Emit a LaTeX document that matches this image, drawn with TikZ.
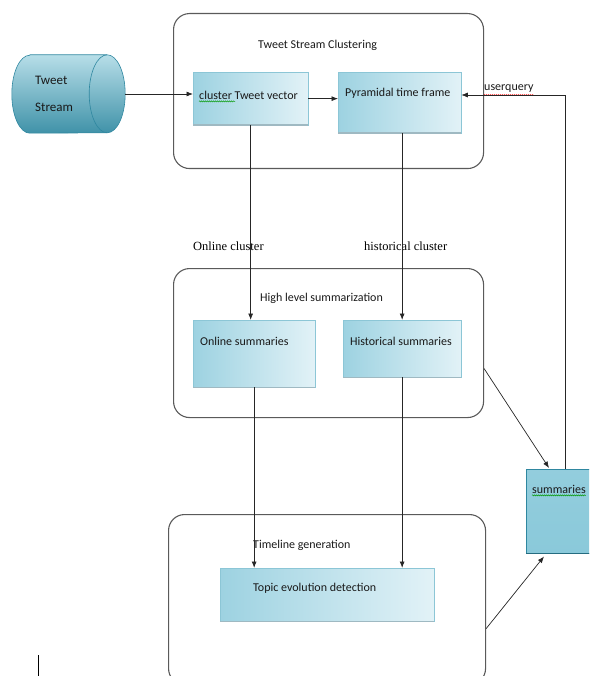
\documentclass[tikz,border=0pt]{standalone}
\usepackage{fontspec}
\setmainfont{Carlito}
\newfontfamily\serifface{Liberation Serif}
\usetikzlibrary{shapes.geometric,positioning,calc,decorations.pathmorphing,arrows.meta}
\definecolor{boxdark}{HTML}{9DD2E1}
\definecolor{boxlight}{HTML}{E2F2F7}
\definecolor{boxedge}{HTML}{8CC6D6}
\definecolor{boxshade}{HTML}{9FB9C2}
\definecolor{streamteal}{HTML}{4BACC6}
\definecolor{streamedge}{HTML}{2F87A0}
\definecolor{framegray}{HTML}{5A5A5A}

\begin{document}
\begin{tikzpicture}
[x=1pt,y=-1pt,>={Latex[length=6.5pt,width=5pt]},
 group/.style={draw=framegray,line width=1.1pt,rounded corners=16pt,anchor=north west},
 stagebox/.style={anchor=north west,left color=boxdark,right color=boxlight,draw=boxedge,line width=0.3pt},
 stagetext/.style={anchor=west,font=\fontsize{12}{14}\selectfont,text=black!90,inner sep=0pt},
 flowlabel/.style={anchor=west,font=\serifface\fontsize{12.5}{14}\selectfont,inner sep=0pt},
 squiggle/.style={decorate,decoration={snake,segment length=2pt,amplitude=0.6pt},line width=0.4pt},
 link/.style={->,line width=0.7pt,black!85}]

% the frame of the page
\useasboundingbox (0,0) rectangle (589,676);
\clip (0,0) rectangle (589,676);

% the three groups
\node[group,minimum width=310pt,minimum height=155pt] (clustgroup) at (173,13) {};
\node[group,minimum width=310pt,minimum height=149pt] (sumgroup) at (173,268) {};
\node[group,minimum width=317pt,minimum height=170pt] (timegroup) at (168,514) {};

% the stages
\node[stagebox,minimum width=115pt,minimum height=53pt] (vec) at (193,72) {};
\node[stagebox,minimum width=123pt,minimum height=61pt] (pyr) at (338,72) {};
\node[stagebox,minimum width=122pt,minimum height=67pt] (onl) at (193,320) {};
\node[stagebox,minimum width=118pt,minimum height=57pt] (his) at (343,320) {};
\node[stagebox,minimum width=214pt,minimum height=53pt] (topic) at (220,568) {};
\foreach \n in {vec,pyr,onl,his,topic}
  \draw[boxshade,line width=1.6pt] (\n.south west) -- (\n.south east);

% the stream, drawn as a lying cylinder
\node[minimum width=113pt,minimum height=78pt,inner sep=0pt] (stream) at (68.5,94) {};
\path[top color=streamteal!40!white,middle color=streamteal,bottom color=streamteal!85!black,
      draw=streamedge,line width=0.6pt]
  ($(stream.north west)+(18,0)$) -- ($(stream.north east)+(-18,0)$)
  arc[start angle=-90,end angle=90,x radius=18,y radius=39]
  -- ($(stream.south west)+(18,0)$)
  arc[start angle=90,end angle=270,x radius=18,y radius=39] -- cycle;
\draw[streamedge,line width=0.6pt] ($(stream.north east)+(-18,0)$)
  arc[start angle=-90,end angle=-270,x radius=18,y radius=39];

% the summaries
\node[anchor=north west,minimum width=70pt,minimum height=84pt,
      top color=streamteal!60!white,middle color=streamteal!95!black,bottom color=streamteal!65!white,
      draw=streamedge,line width=0.5pt] (summ) at (526,469) {};
\draw[streamedge!80!black,line width=1.6pt] (summ.south west) -- (summ.south east);

% the texts
\node[stagetext,align=left,font=\fontsize{13}{15}\selectfont] (streamtext) at (35,94) {Tweet\\[12pt]Stream};
\node[stagetext] (clusttitle) at (258,45) {Tweet Stream Clustering};
\node[stagetext] (vectext) at (199,95) {cluster Tweet vector};
\node[stagetext] (pyrtext) at (345,93) {Pyramidal time frame};
\node[stagetext] (querytext) at (484,89) {userquery};
\node[flowlabel] (onlflow) at (193,246) {Online cluster};
\node[flowlabel] (hisflow) at (364,246) {historical cluster};
\node[stagetext] (sumtitle) at (260,298) {High level summarization};
\node[stagetext] (onltext) at (200,341) {Online summaries};
\node[stagetext] (histext) at (350,341) {Historical summaries};
\node[stagetext] (timetitle) at (253,545) {Timeline generation};
\node[stagetext] (topictext) at (253,588) {Topic evolution detection};
\node[stagetext] (summtext) at (532,489) {summaries};

% the spelling marks
\draw[squiggle,green!60!black] ($(vectext.south west)+(0,2)$) -- +(36,0);
\draw[squiggle,red] ($(querytext.south west)+(0,2)$) -- (querytext.south east |- {$(querytext.south west)+(0,2)$});
\draw[squiggle,green!60!black] ($(summtext.south west)+(0,2)$) -- (summtext.south east |- {$(summtext.south west)+(0,2)$});

% the connectors
\coordinate (q) at (565,95);
\draw[link] (stream.east) -- (stream.east -| vec.west);
\draw[link] (vec.east) -- (vec.east -| pyr.west);
\draw[link] (q |- summ.north) -- (q) -- (q -| pyr.east);
\draw[link] (vec.south) -- (vec.south |- onl.north);
\draw[link] (pyr.south -| his.north) -- (his.north);
\draw[link] (onl.south) -- (onl.south |- topic.north);
\draw[link] (his.south) -- (his.south |- topic.north);
\draw[link] ($(sumgroup.north east)!0.67!(sumgroup.south east)$) -- ($(summ.north west)+(23,-1)$);
\draw[link] ($(timegroup.north east)!0.67!(timegroup.south east)$) -- ($(summ.south west)+(18,3)$);

% the cursor mark
\coordinate (mark) at (38,655);
\draw[line width=1pt] (mark) -- +(0,21);

\end{tikzpicture}
\end{document}
